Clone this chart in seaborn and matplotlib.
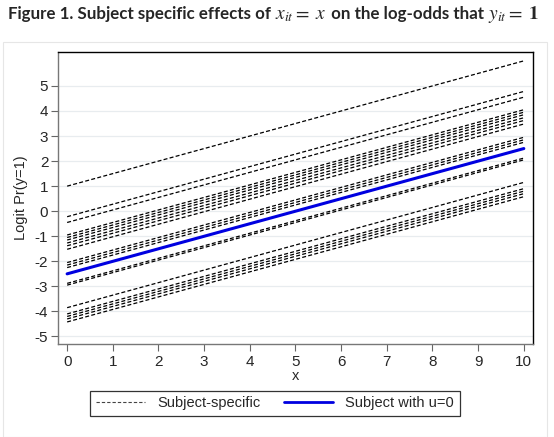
import pandas as pd
import numpy as np
import matplotlib.pyplot as plt
import seaborn as sns
from matplotlib.lines import Line2D
from matplotlib.patches import Rectangle

# values read at x=0 and x=10 for each subject line
x_ends = [0, 10]
subj_y0 = [1.0, -0.22, -0.45, -0.95, -1.05, -1.15, -1.27, -1.38, -1.52,
           -2.05, -2.15, -2.25, -2.88, -2.95, -3.85, -4.1, -4.2, -4.3, -4.42]
subj_y10 = [6.0, 4.78, 4.55, 4.05, 3.95, 3.85, 3.73, 3.62, 3.48,
            2.95, 2.85, 2.75, 2.12, 2.05, 1.15, 0.9, 0.8, 0.7, 0.58]
u0_y = [-2.5, 2.5]
xticks = list(range(0, 11))
yticks = list(range(-5, 6))

rows = []
for i, (a, b) in enumerate(zip(subj_y0, subj_y10)):
    rows.append({'subject': i, 'x': x_ends[0], 'y': a})
    rows.append({'subject': i, 'x': x_ends[1], 'y': b})
subj = pd.DataFrame(rows)
base = pd.DataFrame({'x': x_ends, 'y': u0_y})

sns.set_style('white')
plt.rcParams['font.family'] = ['Liberation Sans', 'DejaVu Sans']
plt.rcParams['mathtext.fontset'] = 'stix'
plt.rcParams['axes.unicode_minus'] = False

fig = plt.figure(figsize=(5.54, 4.37), dpi=100)
ax = fig.add_axes([0.1047, 0.2128, 0.8573, 0.668])

for y in yticks:
    ax.axhline(y, color='#e8ecef', lw=0.9, zorder=0)

sns.lineplot(data=subj, x='x', y='y', units='subject', estimator=None,
             color='black', lw=0.9, linestyle=(0, (3.2, 1.8)), ax=ax)
sns.lineplot(data=base, x='x', y='y', color='#0000e0', lw=2.2, ax=ax)

ax.set_xlim(-0.2, 10.2)
ax.set_ylim(-5.3, 6.35)
ax.set_xticks(xticks)
ax.set_yticks(yticks)
ax.tick_params(axis='both', direction='out', length=5, width=0.8,
               color='#666666', labelsize=11, pad=2,
               bottom=True, left=True)
ax.tick_params(axis='x', pad=3)
ax.set_xlabel('x', fontsize=10.5, labelpad=0)
ax.set_ylabel('Logit Pr(y=1)', fontsize=10.5, labelpad=5)

for s in ['left', 'bottom']:
    ax.spines[s].set_color('#777777')
    ax.spines[s].set_linewidth(1.0)
for s in ['top', 'right']:
    ax.spines[s].set_color('black')
    ax.spines[s].set_linewidth(1.0)

handles = [Line2D([], [], color='#444444', lw=0.8, linestyle=(0, (3, 1.8))),
           Line2D([], [], color='#0000e0', lw=2.0)]
leg = fig.legend(handles, ['Subject-specific', 'Subject with u=0'],
                 loc='center', bbox_to_anchor=(0.496, 0.077), ncol=2,
                 frameon=True, fancybox=False, fontsize=10.5,
                 handlelength=3.4, columnspacing=1.6, handletextpad=0.8,
                 borderpad=0.4, borderaxespad=0)
leg.get_frame().set_edgecolor('black')
leg.get_frame().set_linewidth(0.9)

fig.patches.append(Rectangle((0.006, 0.0), 0.982, 0.905,
                             transform=fig.transFigure, fill=False,
                             edgecolor='#e6e6e6', lw=0.8))

# title built from pieces so the math can be larger than the text
# (piece, kind, extra gap in px after it)
title_parts = [('Figure 1. Subject specific effects of ', 'text', 0),
               (r'$x_{it}$', 'math', -1), (r'$=$', 'math', 5), (r'$x$', 'math', 0),
               (' on the log-odds that ', 'text', 0),
               (r'$y_{it}$', 'math', -1), (r'$=$', 'math', 5), (r'$\mathbf{1}$', 'math', 0)]
renderer = fig.canvas.get_renderer()
xpos = 8.0
for s, kind, gap in title_parts:
    if kind == 'text':
        t = fig.text(xpos / 554, 1 - 19 / 437, s, fontsize=12.2, fontweight='bold',
                     family=['Lato', 'DejaVu Sans'], va='baseline', ha='left')
    else:
        t = fig.text(xpos / 554, 1 - 19 / 437, s, fontsize=14,
                     va='baseline', ha='left')
    xpos += t.get_window_extent(renderer).width + gap

fig.savefig('out.png', dpi=100)
